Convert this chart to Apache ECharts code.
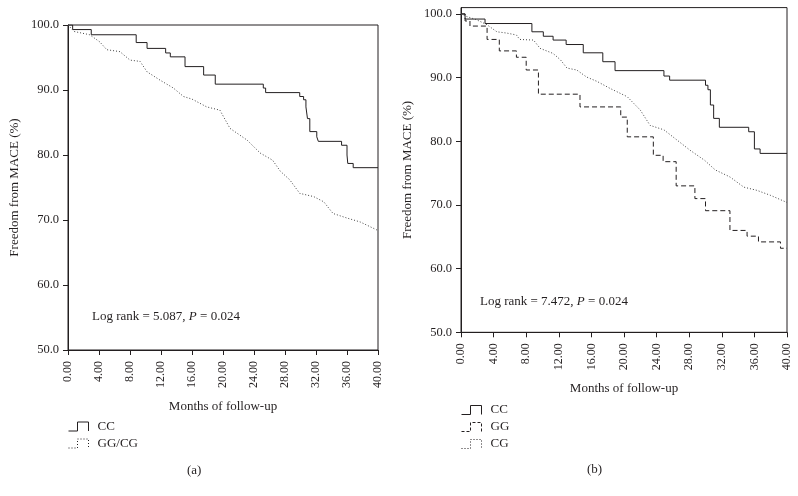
<!DOCTYPE html>
<html><head><meta charset="utf-8">
<script src="https://cdn.jsdelivr.net/npm/echarts@6/dist/echarts.min.js"></script>
<style>html,body{margin:0;padding:0;background:#fff}#c{width:798px;height:496px}</style>
</head><body><div id="c"></div>
<script>
// ---- data ----
const yTickValues = [50, 60, 70, 80, 90, 100];
const xTickStep = 4;

// panel (a)
const aCCMonths = [0, 0.6, 3.0, 8.8, 10.2, 12.6, 13.2, 15.1, 17.5, 19.0, 25.2, 25.5, 29.9, 30.4, 30.7, 30.9, 31.2, 32.1, 32.3, 35.3, 36.0, 36.1, 36.8, 40];
const aCCValues = [100, 99.3, 98.5, 97.3, 96.4, 95.7, 95.1, 93.6, 92.3, 90.9, 90.3, 89.6, 89.0, 88.5, 87.4, 85.6, 83.6, 82.8, 82.1, 81.5, 80.0, 78.7, 78.05, 78.05];
const aGCMonths = [0, 0.8, 2.8, 4.1, 5.0, 6.7, 8.0, 9.3, 10.2, 11.9, 13.6, 14.9, 16.0, 17.9, 19.6, 20.9, 23.1, 24.8, 26.4, 27.4, 28.6, 29.9, 31.7, 33.0, 34.2, 36.0, 37.7, 39.8, 40];
const aGCValues = [100, 99.0, 98.5, 97.4, 96.2, 95.9, 94.6, 94.4, 92.8, 91.5, 90.3, 89.0, 88.6, 87.4, 86.9, 84.1, 82.3, 80.3, 79.2, 77.5, 76.2, 74.1, 73.6, 72.8, 71.0, 70.3, 69.7, 68.5, 68.4];

// panel (b)
const bCCMonths = [0, 0.5, 2.95, 8.7, 10.1, 11.3, 12.9, 15.0, 17.4, 18.9, 24.9, 25.6, 30.0, 30.3, 30.6, 31.0, 31.7, 35.3, 36.0, 36.7, 40];
const bCCValues = [100, 99.2, 98.5, 97.2, 96.5, 95.9, 95.2, 93.9, 92.5, 91.1, 90.25, 89.6, 88.8, 88.1, 85.7, 83.6, 82.2, 81.5, 78.8, 78.1, 78.1];
const bGGMonths = [0, 0.5, 1.1, 3.2, 4.7, 6.8, 8.0, 9.5, 14.6, 19.6, 20.4, 23.6, 24.8, 26.4, 28.7, 30.0, 33.0, 35.1, 36.5, 39.2, 40];
const bGGValues = [100, 98.9, 98.1, 96.0, 94.2, 93.2, 91.2, 87.4, 85.4, 83.8, 80.7, 77.8, 76.8, 73.0, 71.0, 69.1, 66.0, 65.1, 64.2, 63.2, 63.2];
const bCGMonths = [0, 0.7, 1.9, 3.2, 4.4, 5.6, 6.8, 7.2, 8.9, 9.7, 11.3, 12.2, 13.0, 14.2, 15.4, 16.7, 18.3, 20.4, 22.0, 23.2, 24.9, 26.5, 28.1, 29.9, 31.2, 33.0, 34.7, 36.3, 38.0, 39.8, 40];
const bCGValues = [100, 99.6, 99.1, 98.3, 97.2, 97.0, 96.7, 96.0, 95.9, 94.6, 93.8, 92.8, 91.5, 91.2, 90.1, 89.4, 88.3, 87.0, 84.9, 82.5, 81.8, 80.2, 78.6, 77.0, 75.5, 74.4, 72.8, 72.3, 71.5, 70.5, 70.4];

const logRankA = '5.087', pA = '0.024';
const logRankB = '7.472', pB = '0.024';

// ---- build ----
const pair = (xs, ys) => xs.map((x, i) => [x, ys[i]]);
const INK = '#231f20';
const FONT = '"Liberation Serif", "DejaVu Serif", serif';

function xAxisFor(gridIndex) {
  return {
    gridIndex, type: 'value', min: 0, max: 40, interval: xTickStep,
    name: 'Months of follow-up', nameLocation: 'middle', nameGap: 50,
    nameTextStyle: { fontFamily: FONT, fontSize: 13, color: INK },
    axisLine: { show: true, lineStyle: { color: INK, width: 1 } },
    axisTick: { show: true, length: 5, lineStyle: { color: INK } },
    axisLabel: { rotate: 90, margin: 11, fontFamily: FONT, fontSize: 12, color: INK,
                 formatter: v => v.toFixed(2), showMinLabel: true, showMaxLabel: true },
    splitLine: { show: false }
  };
}
function yAxisFor(gridIndex, max) {
  return {
    gridIndex, type: 'value', min: 50, max: max, interval: 10,
    name: 'Freedom from MACE (%)', nameLocation: 'middle', nameGap: 47,
    nameTextStyle: { fontFamily: FONT, fontSize: 13, color: INK },
    axisLine: { show: true, lineStyle: { color: INK, width: 1 } },
    axisTick: { show: true, length: 5, lineStyle: { color: INK }, customValues: yTickValues },
    axisLabel: { margin: 9, fontFamily: FONT, fontSize: 12.5, color: INK, customValues: yTickValues,
                 formatter: v => (yTickValues.indexOf(v) >= 0 ? v.toFixed(1) : '') },
    splitLine: { show: false }
  };
}
const solid = { color: INK, width: 1, type: 'solid' };
const dotted = { color: '#444', width: 1, type: [1, 2] };
const dashed = { color: INK, width: 1, type: [5, 3] };

const stepIcon = 'path://M0,9L9,9L9,0L20,0L20,9';
function legendItem(name, type) {
  return { name, icon: stepIcon,
    itemStyle: { color: 'transparent', borderColor: INK, borderWidth: 1, borderType: type } };
}
const legendText = { fontFamily: FONT, fontSize: 13, color: INK, lineHeight: 13, padding: [0, 0, 0, 3] };
const rich = {
  n: { fontFamily: FONT, fontSize: 13, fontWeight: 'normal', color: INK, lineHeight: 15 },
  i: { fontFamily: FONT, fontSize: 13, fontWeight: 'normal', color: INK, lineHeight: 15, fontStyle: 'italic' }
};

const option = {
  animation: false,
  backgroundColor: '#fff',
  grid: [
    { left: 68, top: 25, width: 310, height: 325, show: true, borderColor: INK, borderWidth: 1, containLabel: false },
    { left: 461, top: 7.6, width: 326, height: 324.7, show: true, borderColor: INK, borderWidth: 1, containLabel: false }
  ],
  xAxis: [xAxisFor(0), xAxisFor(1)],
  yAxis: [yAxisFor(0, 100), yAxisFor(1, 101)],
  title: [
    { text: '{n|Log rank = ' + logRankA + ', }{i|P}{n| = ' + pA + '}', left: 92, top: 309, padding: 0, textStyle: { fontWeight: 'normal', rich } },
    { text: '{n|Log rank = ' + logRankB + ', }{i|P}{n| = ' + pB + '}', left: 480, top: 294, padding: 0, textStyle: { fontWeight: 'normal', rich } },
    { text: '{n|(a)}', left: 187, top: 463, padding: 0, textStyle: { fontWeight: 'normal', rich } },
    { text: '{n|(b)}', left: 587, top: 462.5, padding: 0, textStyle: { fontWeight: 'normal', rich } }
  ],
  legend: [
    { orient: 'vertical', left: 68, top: 420, padding: 0, itemWidth: 22, itemHeight: 9, itemGap: 4,
      selectedMode: false, textStyle: legendText,
      data: [legendItem('CC', 'solid'), legendItem('GG/CG', [1, 2])] },
    { orient: 'vertical', left: 461, top: 403.5, padding: 0, itemWidth: 22, itemHeight: 9, itemGap: 4,
      selectedMode: false, textStyle: legendText,
      data: [legendItem('CC', 'solid'), legendItem('GG', [3, 2]), legendItem('CG', [1, 2])] }
  ],
  series: [
    { name: 'CC', type: 'line', xAxisIndex: 0, yAxisIndex: 0, step: 'end', symbol: 'none',
      lineStyle: solid, itemStyle: { color: INK }, data: pair(aCCMonths, aCCValues) },
    { name: 'GG/CG', type: 'line', xAxisIndex: 0, yAxisIndex: 0, symbol: 'none',
      lineStyle: dotted, itemStyle: { color: '#444' }, data: pair(aGCMonths, aGCValues) },
    { name: 'CC', type: 'line', xAxisIndex: 1, yAxisIndex: 1, step: 'end', symbol: 'none',
      lineStyle: solid, itemStyle: { color: INK }, data: pair(bCCMonths, bCCValues) },
    { name: 'GG', type: 'line', xAxisIndex: 1, yAxisIndex: 1, step: 'end', symbol: 'none',
      lineStyle: dashed, itemStyle: { color: INK }, data: pair(bGGMonths, bGGValues) },
    { name: 'CG', type: 'line', xAxisIndex: 1, yAxisIndex: 1, symbol: 'none',
      lineStyle: dotted, itemStyle: { color: '#444' }, data: pair(bCGMonths, bCGValues) }
  ]
};
const chart = echarts.init(document.getElementById('c'), null, { renderer: 'canvas' });
chart.setOption(option);
</script></body></html>
